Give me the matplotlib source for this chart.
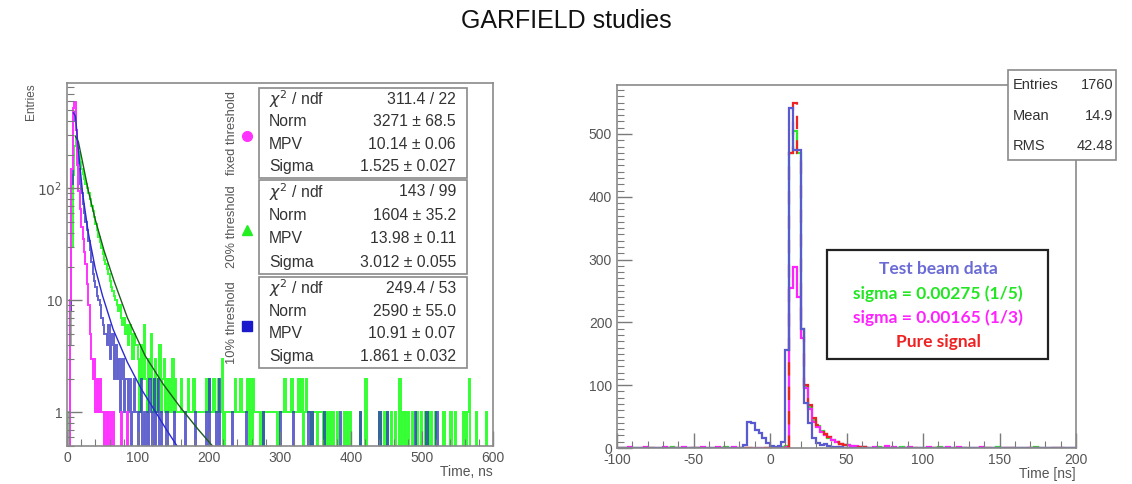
import numpy as np
import matplotlib.pyplot as plt
from matplotlib.patches import Rectangle
from matplotlib.ticker import MultipleLocator, FixedLocator, NullFormatter

W, H = 1132, 484
GRAY = "#555555"

# ---------------- left panel: time distributions, 2 ns bins, 0-600 ns ----------------
left_edges = np.arange(0, 602, 2)

# first 50 bins (0-100 ns)
fixed_head = [0, 0, 10, 150, 520, 590, 330, 160, 95, 65, 45, 35, 27, 21, 14, 9, 5, 3, 2, 3,
              1, 2, 1, 2, 1, 1, 0, 1, 0, 1, 0, 0, 1, 0, 0, 0, 0, 0, 1, 0,
              0, 0, 1, 0, 0, 0, 0, 0, 0, 0]
thr20_head = [0, 1, 4, 30, 130, 240, 290, 260, 210, 170, 150, 135, 122, 110, 100, 90, 80, 70,
              62, 55, 48, 42, 37, 33, 29, 26, 23, 21, 19, 17, 15, 13, 12, 11, 10, 9, 8, 9,
              7, 6, 7, 5, 6, 4, 6, 5, 3, 5, 4, 4]
thr10_head = [0, 0, 8, 110, 400, 480, 330, 210, 150, 110, 90, 72, 60, 50, 42, 34, 28, 22, 17, 15,
              13, 11, 10, 9, 7, 6, 5, 5, 4, 6, 3, 4, 5, 2, 4, 2, 3, 1, 2, 3,
              1, 2, 2, 1, 2, 0, 1, 2, 1, 1]

# 100-150 ns for the 20% threshold
thr20_mid = [3, 1, 4, 2, 6, 2, 1, 3, 2, 5, 1, 2, 3, 1, 2, 4, 1, 2, 3, 1, 2, 1, 2, 1, 3]

# sparse tails: bin left edges (ns) with 1, 2 or 3 entries
thr20_tail1 = [150, 154, 156, 158, 162, 164, 166, 168, 172, 174, 176, 180, 182, 184, 186, 188,
               190, 192, 194, 198, 202, 204, 208, 210, 214, 216, 222, 224, 226, 228, 230, 232,
               234, 238, 240, 242, 246, 248, 250, 252, 264, 266, 268, 270, 274, 278, 280, 282,
               284, 286, 288, 290, 292, 294, 298, 300, 302, 304, 308, 310, 312, 314, 318, 320,
               322, 324, 328, 334, 338, 340, 342, 346, 348, 350, 354, 356, 358, 362, 366, 370,
               374, 380, 390, 394, 398, 412, 440, 446, 450, 456, 462, 472, 476, 480, 486, 492,
               498, 504, 508, 512, 518, 530, 540, 546, 558, 564, 576, 590]
thr20_tail2 = [152, 160, 170, 178, 196, 200, 206, 212, 236, 244, 254, 258, 262, 306, 316, 326,
               330, 336, 420, 468, 566]
thr20_tail3 = [218]
thr10_tail1 = [102, 108, 112, 118, 126, 132, 140, 150, 166, 180, 196, 210, 232, 252, 276, 300,
               318, 340, 344, 362, 384, 412, 440, 450, 490, 506, 520]
thr10_tail2 = [104, 116, 122, 128, 200, 214]

# Landau fit curves
fit20_x = [12, 16, 22, 30, 40, 52, 66, 85, 110, 135, 160, 185, 205]
fit20_y = [290, 260, 170, 95, 52, 28, 15, 7, 3.2, 1.8, 1.1, 0.7, 0.5]
fit10_x = [9, 12, 16, 22, 30, 40, 50, 65, 85, 105, 125, 140, 155]
fit10_y = [470, 440, 220, 90, 40, 19, 11, 5.5, 2.8, 1.6, 1.0, 0.7, 0.5]

fit_boxes = [
    ("fixed threshold", [r"$\chi^2$ / ndf", "Norm", "MPV", "Sigma"],
     ["311.4 / 22", "3271 ± 68.5", "10.14 ± 0.06", "1.525 ± 0.027"]),
    ("20% threshold", [r"$\chi^2$ / ndf", "Norm", "MPV", "Sigma"],
     ["143 / 99", "1604 ± 35.2", "13.98 ± 0.11", "3.012 ± 0.055"]),
    ("10% threshold", [r"$\chi^2$ / ndf", "Norm", "MPV", "Sigma"],
     ["249.4 / 53", "2590 ± 55.0", "10.91 ± 0.07", "1.861 ± 0.032"]),
]

# ---------------- right panel: 2.5 ns bins, -100..200 ns ----------------
right_edges = np.arange(-100, 202.5, 2.5)
r_start = -17.5   # first listed bin
beam_r = [5, 42, 40, 29, 24, 16, 8, 3, 2, 3, 10, 156, 541, 474, 474, 190, 72, 40, 16, 8,
          4, 7, 3, 2, 1, 1, 0, 0, 0, 0, 0, 0]
sig5_r = [0, 0, 0, 0, 0, 0, 0, 0, 0, 0, 2, 3, 470, 505, 470, 190, 97, 65, 45, 35,
          27, 22, 16, 13, 9, 7, 5, 4, 3, 2, 2, 1]
sig3_r = [0, 0, 0, 0, 0, 0, 0, 0, 0, 0, 0, 2, 255, 288, 240, 175, 95, 62, 42, 33,
          25, 20, 17, 12, 9, 7, 5, 4, 3, 3, 2, 2]
pure_r = [0, 0, 0, 0, 0, 0, 0, 0, 0, 0, 0, 2, 470, 549, 470, 195, 100, 68, 47, 36,
          28, 23, 17, 13, 10, 7, 5, 4, 3, 2, 2, 1]
# small baseline entries outside the listed range (bin left edge, count)
sig3_noise = [(-92.5, 2), (-82.5, 2), (-70, 2), (-57.5, 2), (-45, 2), (-35, 2), (-25, 2),
              (67.5, 2), (75, 3), (80, 2), (90, 2), (102.5, 2), (115, 2), (122.5, 2), (137.5, 2)]
sig5_noise = [(-65, 2), (-30, 2), (70, 2), (85, 2), (110, 2), (147.5, 2), (172.5, 2)]

stats_labels = ["Entries", "Mean", "RMS"]
stats_values = ["1760", "14.9", "42.48"]
legend_lines = ["Test beam data", "sigma = 0.00275 (1/5)", "sigma = 0.00165 (1/3)", "Pure signal"]
legend_colors = ["#6b6bd6", "#22e622", "#ff22ff", "#ee2222"]


def fill(edges, head, start=0.0, w=2.0, tails=()):
    v = np.zeros(len(edges) - 1)
    i0 = int(round((start - edges[0]) / w))
    v[i0:i0 + len(head)] += head
    for pos, cnt in tails:
        v[int(round((pos - edges[0]) / w))] += cnt
    return v


def fx(x):
    return x / W


def fy(y):
    return 1 - y / H


fixed = fill(left_edges, fixed_head)
thr20 = fill(left_edges, thr20_head + thr20_mid,
             tails=[(p, 1) for p in thr20_tail1] + [(p, 2) for p in thr20_tail2] + [(p, 3) for p in thr20_tail3])
thr10 = fill(left_edges, thr10_head,
             tails=[(p, 1) for p in thr10_tail1] + [(p, 2) for p in thr10_tail2])

plt.rcParams['font.family'] = ['Liberation Sans', 'DejaVu Sans']
plt.rcParams['axes.unicode_minus'] = False
fig = plt.figure(figsize=(W / 100, H / 100), dpi=100)
fig.text(0.5, fy(21), "GARFIELD studies", ha="center", va="center", fontsize=18, color="#111111")


def root_style(ax):
    for s in ax.spines.values():
        s.set_color("#8a8a8a")
        s.set_linewidth(1.2)
    ax.tick_params(which="both", direction="in", top=False, right=False,
                   colors="#7a7a7a", labelcolor=GRAY, labelsize=10)
    ax.tick_params(which="major", length=11, width=1)
    ax.tick_params(which="minor", length=5, width=0.8)


# ---------------- left axes ----------------
axl = fig.add_axes([fx(67), fy(446), (493 - 67) / W, (446 - 83) / H])
lowv = 1e-3
for vals, col, a in [(thr20, "#33ff33", 1.0), (thr10, "#3030c0", 0.75), (fixed, "#ff33ff", 1.0)]:
    axl.stairs(np.where(vals > 0, vals, lowv), left_edges, color=col, lw=1.4, alpha=a, baseline=None)
axl.plot(fit20_x, fit20_y, color="#1f5a1f", lw=1.0)
axl.plot(fit10_x, fit10_y, color="#2a2ad0", lw=1.0)
axl.set_yscale("log")
axl.set_xlim(0, 600)
axl.set_ylim(0.5, 870)
axl.xaxis.set_major_locator(MultipleLocator(100))
axl.xaxis.set_minor_locator(MultipleLocator(20))
axl.yaxis.set_major_locator(FixedLocator([1, 10, 100]))
axl.yaxis.set_minor_locator(FixedLocator([m * 10 ** k for k in range(-1, 3) for m in range(2, 10)]))
axl.yaxis.set_minor_formatter(NullFormatter())
axl.set_yticklabels(["1", "10", r"$10^2$"])
root_style(axl)
fig.text(fx(31), fy(83), "Entries", rotation=90, ha="center", va="top", fontsize=8.5, color=GRAY)
fig.text(fx(493), fy(472), "Time, ns", ha="right", va="center", fontsize=10, color=GRAY)

# fit stat boxes with side labels and markers
box_y = [(88, 178), (180, 274), (277, 368)]
markers = [("o", "#ff33ff"), ("^", "#22ee22"), ("s", "#1a1acc")]
for (side, labels, values), (y0, y1), (mk, mc) in zip(fit_boxes, box_y, markers):
    fig.patches.append(Rectangle((fx(259), fy(y1)), (467 - 259) / W, (y1 - y0) / H,
                                 transform=fig.transFigure, facecolor="white",
                                 edgecolor="#8a8a8a", lw=1.2, zorder=5))
    step = (y1 - y0) / 4
    for i, (lab, val) in enumerate(zip(labels, values)):
        yy = y0 + step * (i + 0.5)
        fig.text(fx(269), fy(yy), lab, ha="left", va="center", fontsize=11.3, color="#333333", zorder=6)
        fig.text(fx(456), fy(yy), val, ha="right", va="center", fontsize=11.3, color="#333333", zorder=6)
    yc = (y0 + y1) / 2
    fig.text(fx(232), fy(yc), side, rotation=90, ha="center", va="center", fontsize=9.3, color=GRAY)
    fig.lines.append(plt.Line2D([fx(247)], [fy(yc + 3)], marker=mk, color=mc, markersize=7,
                                transform=fig.transFigure, linestyle="none"))

# ---------------- right axes ----------------
axr = fig.add_axes([fx(617), fy(448), (1076 - 617) / W, (448 - 85) / H])
beam = fill(right_edges, beam_r, r_start, 2.5)
sig5 = fill(right_edges, sig5_r, r_start, 2.5, sig5_noise)
sig3 = fill(right_edges, sig3_r, r_start, 2.5, sig3_noise)
pure = fill(right_edges, pure_r, r_start, 2.5)
axr.stairs(sig5, right_edges, color="#22ee22", lw=1.6, baseline=None)
axr.stairs(sig3, right_edges, color="#ff22ff", lw=1.6, baseline=None)
axr.stairs(pure, right_edges, color="#ee2222", lw=1.6, ls=(0, (6, 5)), baseline=None)
axr.stairs(beam, right_edges, color="#5a5ad0", lw=1.6, baseline=None)
axr.set_xlim(-100, 200)
axr.set_ylim(0, 578)
axr.xaxis.set_major_locator(MultipleLocator(50))
axr.xaxis.set_minor_locator(MultipleLocator(10))
axr.yaxis.set_major_locator(MultipleLocator(100))
axr.yaxis.set_minor_locator(MultipleLocator(10))
root_style(axr)
fig.text(fx(1076), fy(474), "Time [ns]", ha="right", va="center", fontsize=10, color=GRAY)

# stats box
fig.patches.append(Rectangle((fx(1008), fy(160)), (1116 - 1008) / W, 90 / H,
                             transform=fig.transFigure, facecolor="white",
                             edgecolor="#8a8a8a", lw=1.2, zorder=5))
for i, (lab, val) in enumerate(zip(stats_labels, stats_values)):
    yy = 85 + 30.5 * i
    fig.text(fx(1013), fy(yy), lab, ha="left", va="center", fontsize=10.5, color="#333333", zorder=6)
    fig.text(fx(1113), fy(yy), val, ha="right", va="center", fontsize=10.5, color="#333333", zorder=6)

# legend box
fig.patches.append(Rectangle((fx(827), fy(359)), (1048 - 827) / W, (359 - 250) / H,
                             transform=fig.transFigure, facecolor="white",
                             edgecolor="#222222", lw=1.6, zorder=5))
for i, (t, c) in enumerate(zip(legend_lines, legend_colors)):
    fig.text(fx(938), fy(269 + 24.3 * i), t, ha="center", va="center", fontsize=12.5,
             fontweight="bold", color=c, family=["Lato", "DejaVu Sans"], zorder=6)

fig.savefig("out.png", dpi=100)
